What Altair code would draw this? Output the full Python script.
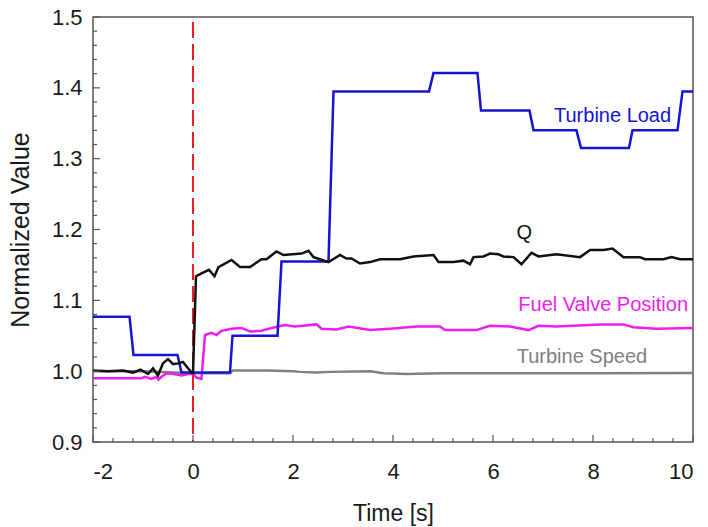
import altair as alt
import pandas as pd

FONT = "Liberation Sans"

# Turbine Load (blue)
load_t = [-2, -1.27, -1.19, -0.31, -0.23, 0.74, 0.79, 1.69, 1.77, 2.71, 2.81, 4.72, 4.81,
          5.69, 5.76, 6.73, 6.81, 7.67, 7.76, 8.72, 8.79, 9.69, 9.79, 10]
load_v = [1.077, 1.077, 1.023, 1.023, 0.998, 0.998, 1.050, 1.050, 1.155, 1.155, 1.395, 1.395, 1.421,
          1.421, 1.368, 1.368, 1.340, 1.340, 1.315, 1.315, 1.340, 1.340, 1.395, 1.395]

# Q (black)
q_t = [-2, -1.7, -1.4, -1.2, -1.05, -0.9, -0.8, -0.7, -0.6, -0.5, -0.4, -0.3, -0.2, -0.12, -0.03, 0.0,
       0.06, 0.17, 0.32, 0.43, 0.51, 0.77, 0.94, 1.14, 1.37, 1.47, 1.67, 1.81, 2.17, 2.31, 2.41, 2.54,
       2.71, 2.94, 3.07, 3.17, 3.34, 3.54, 3.74, 4.14, 4.41, 4.81, 4.91, 5.21, 5.41, 5.54, 5.61, 5.81,
       5.94, 6.11, 6.21, 6.41, 6.57, 6.77, 6.91, 7.27, 7.74, 7.94, 8.21, 8.39, 8.61, 8.94, 9.04, 9.41,
       9.57, 9.74, 10]
q_v = [1.001, 1.000, 1.001, 0.998, 1.002, 0.996, 1.004, 0.994, 1.011, 1.017, 1.010, 1.011, 1.013, 1.006, 0.998, 0.997,
       1.134, 1.138, 1.143, 1.134, 1.147, 1.157, 1.147, 1.147, 1.158, 1.158, 1.169, 1.164, 1.166, 1.170, 1.161, 1.158,
       1.154, 1.164, 1.159, 1.159, 1.152, 1.154, 1.158, 1.158, 1.162, 1.164, 1.154, 1.154, 1.156, 1.151, 1.161, 1.162,
       1.166, 1.165, 1.162, 1.161, 1.151, 1.167, 1.162, 1.165, 1.161, 1.171, 1.171, 1.173, 1.161, 1.161, 1.158, 1.158,
       1.161, 1.158, 1.158]

# Fuel Valve Position (magenta)
fuel_t = [-2, -1.03, -0.96, -0.83, -0.73, -0.69, -0.63, -0.53, -0.39, -0.23, -0.09, 0.0, 0.07, 0.17,
          0.24, 0.37, 0.47, 0.57, 0.77, 0.97, 1.14, 1.37, 1.57, 1.84, 2.04, 2.47, 2.57, 2.87, 3.11,
          3.54, 3.94, 4.47, 4.94, 5.04, 5.67, 5.94, 6.34, 6.71, 6.91, 7.27, 8.14, 8.61, 8.81, 9.27, 10]
fuel_v = [0.990, 0.990, 0.992, 0.989, 0.992, 0.988, 0.992, 0.997, 0.996, 0.994, 0.996, 0.996, 0.991, 0.989,
          1.051, 1.054, 1.051, 1.057, 1.060, 1.061, 1.056, 1.057, 1.061, 1.065, 1.063, 1.066, 1.060, 1.059, 1.063,
          1.058, 1.060, 1.063, 1.063, 1.058, 1.058, 1.064, 1.063, 1.058, 1.064, 1.063, 1.066, 1.066, 1.062, 1.060, 1.061]

# Turbine Speed (gray)
speed_t = [-2, -1, 0, 0.74, 0.8, 1.5, 2.0, 2.14, 2.47, 2.74, 3.54, 3.81, 4.27, 5, 6, 8, 10]
speed_v = [1.000, 1.000, 0.997, 0.997, 1.001, 1.001, 1.000, 0.999, 0.998, 0.999, 1.000, 0.997, 0.996, 0.997, 0.997, 0.997, 0.9975]

series_names = ["Turbine Speed", "Fuel Valve Position", "Turbine Load", "Q"]
series_colors = ["#808080", "#ee1eee", "#1414d2", "#111111"]

rows = []
for name, ts, vs in [("Turbine Speed", speed_t, speed_v),
                     ("Fuel Valve Position", fuel_t, fuel_v),
                     ("Turbine Load", load_t, load_v),
                     ("Q", q_t, q_v)]:
    for i, (t, v) in enumerate(zip(ts, vs)):
        rows.append({"series": name, "t": t, "v": v, "i": i})
df = pd.DataFrame(rows)

xscale = alt.Scale(domain=[-2, 10], nice=False, zero=False)
yscale = alt.Scale(domain=[0.9, 1.5], nice=False, zero=False)

xaxis = alt.Axis(values=[-2, 0, 2, 4, 6, 8, 10], labelExpr="'' + datum.value", ticks=False, grid=False,
                 labelFont=FONT, labelFontSize=22, labelColor="#1a1a1a", labelPadding=19,
                 title="Time [s]", titleFont=FONT, titleFontSize=23, titleFontWeight="normal",
                 titleColor="#1a1a1a", titleBaseline="alphabetic", titleY=78,
                 domain=False)
yaxis = alt.Axis(values=[0.9, 1.0, 1.1, 1.2, 1.3, 1.4, 1.5], format=".1f", ticks=False, grid=False,
                 labelFont=FONT, labelFontSize=22, labelColor="#1a1a1a", labelPadding=11,
                 title="Normalized Value", titleFont=FONT, titleFontSize=25, titleFontWeight="normal",
                 titleColor="#1a1a1a", titleBaseline="alphabetic", titleX=-65, titleAngle=-90,
                 domain=False)

def X(field=None, datum=None):
    if datum is not None:
        return alt.X(datum=datum, type="quantitative", scale=xscale, axis=xaxis)
    return alt.X(field, type="quantitative", scale=xscale, axis=xaxis)

def Y(field=None, datum=None):
    if datum is not None:
        return alt.Y(datum=datum, type="quantitative", scale=yscale, axis=yaxis)
    return alt.Y(field, type="quantitative", scale=yscale, axis=yaxis)

lines = alt.Chart(df).mark_line(strokeWidth=2.5, interpolate="linear").encode(
    x=X("t"),
    y=Y("v"),
    color=alt.Color("series:N", scale=alt.Scale(domain=series_names, range=series_colors), legend=None),
    detail="series:N",
    order="i:Q",
)

# red dashed line at t = 0
vline_df = pd.DataFrame({"t": [0, 0], "v": [1.493, 0.9]})
vline = alt.Chart(vline_df).mark_line(color="#e82020", strokeWidth=2, strokeDash=[16, 6]).encode(
    x=X("t"), y=Y("v"),
)

# inward ticks
x_major = [-2, 0, 2, 4, 6, 8, 10]
x_minor = [round(-2 + 0.4 * k, 2) for k in range(31) if k % 5 != 0]
y_major = [0.9, 1.0, 1.1, 1.2, 1.3, 1.4, 1.5]
y_minor = [round(0.9 + 0.02 * k, 2) for k in range(31) if k % 5 != 0]
H = 425

def xticks(vals, ln):
    return alt.Chart(pd.DataFrame({"t": vals})).mark_rule(color="#555555", strokeWidth=1.2).encode(
        x=X("t"), y=alt.value(H), y2=alt.value(H - ln))

def yticks(vals, ln):
    return alt.Chart(pd.DataFrame({"v": vals})).mark_rule(color="#555555", strokeWidth=1.2).encode(
        y=Y("v"), x=alt.value(0), x2=alt.value(ln))

def label(text, t, v, color, align="left"):
    return alt.Chart(pd.DataFrame({"a": [0]})).mark_text(
        text=text, font=FONT, fontSize=20, color=color, align=align, baseline="middle").encode(
        x=X(datum=t), y=Y(datum=v))

chart = alt.layer(
    vline, lines,
    xticks(x_major, 7), xticks(x_minor, 4), yticks(y_major, 7), yticks(y_minor, 4),
    label("Turbine Load", 7.22, 1.3606, "#1414d2"),
    label("Fuel Valve Position", 6.506, 1.0932, "#ee1eee"),
    label("Turbine Speed", 6.474, 1.0202, "#808080"),
    label("Q", 6.626, 1.1945, "#111111", align="center"),
).properties(
    width=600, height=425,
    padding={"left": 93, "top": 17, "right": 15, "bottom": 85},
    autosize=alt.AutoSizeParams(type="none"),
    background="white",
).configure_view(stroke="#555555", strokeWidth=1.5)

chart.save("out.html", embed_options={"renderer": "svg", "actions": False})
